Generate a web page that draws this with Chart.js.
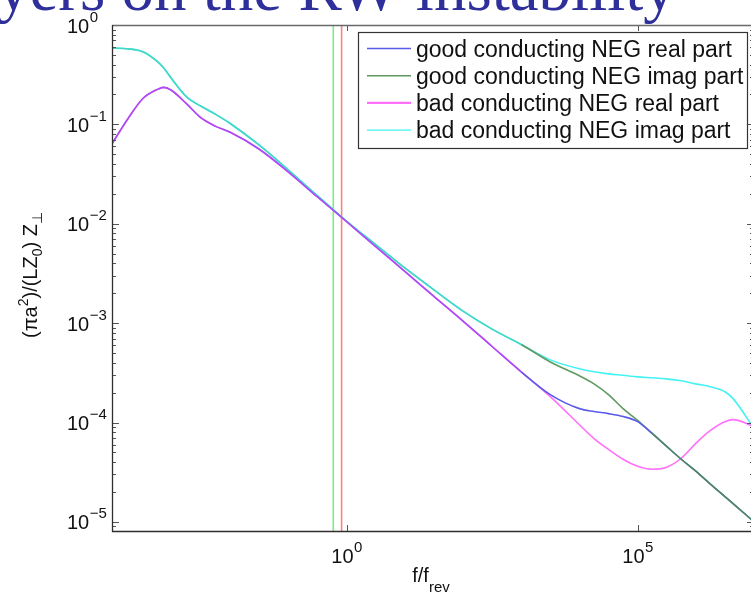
<!DOCTYPE html>
<html>
<head>
<meta charset="utf-8">
<script src="https://cdn.jsdelivr.net/npm/chart.js@4/dist/chart.umd.min.js"></script>
<style>
  html, body { margin: 0; padding: 0; background: #fff; overflow: hidden; }
  #wrap { position: relative; width: 751px; height: 597px; overflow: hidden; }
  #chart { position: absolute; left: 0; top: 0; }
</style>
</head>
<body>
<div id="wrap"><canvas id="chart" width="760" height="597"></canvas></div>
<script>
// f/f_rev sample points
const freq = [9.3e-5, 1.78e-4, 3.16e-4, 5.62e-4, 7.08e-4, 1e-3, 1.78e-3, 3.16e-3, 5.62e-3, 1e-2,
  3.16e-2, 0.1, 0.316, 1, 3.16, 10, 31.6, 100, 316, 1e3,
  3.16e3, 1e4, 1.78e4, 3.16e4, 5.62e4, 1e5, 1.78e5, 3.16e5, 5.62e5, 1e6,
  1.78e6, 3.16e6, 4.37e6, 1e7];

const goodReal = [0.0638, 0.116, 0.182, 0.225, 0.2355, 0.218, 0.161, 0.116, 0.0955, 0.0832,
  0.0562, 0.0331, 0.0186, 0.0105, 0.00589, 0.00331, 0.00186, 0.00105, 0.000582, 0.000324,
  0.000191, 0.000138, 0.000129, 0.000123, 0.000115, 0.000102, 7.76e-5, 5.75e-5, 4.27e-5, 3.24e-5,
  2.4e-5, 1.8e-5, 1.53e-5, 1.0e-5];

const goodImag = [0.585, 0.575, 0.537, 0.427, 0.373, 0.285, 0.189, 0.152, 0.126, 0.102,
  0.0617, 0.0347, 0.0191, 0.0106, 0.00617, 0.00359, 0.00216, 0.00132, 0.00087, 0.00061,
  0.000407, 0.000295, 0.000245, 0.000191, 0.000138, 0.000105, 7.76e-5, 5.75e-5, 4.27e-5, 3.24e-5,
  2.4e-5, 1.8e-5, 1.53e-5, 1.0e-5];

const badReal = [0.0638, 0.116, 0.182, 0.225, 0.2355, 0.218, 0.161, 0.116, 0.0955, 0.0832,
  0.0562, 0.0331, 0.0186, 0.0105, 0.00589, 0.00331, 0.00186, 0.00105, 0.000582, 0.000324,
  0.000182, 9.5e-5, 6.9e-5, 5.37e-5, 4.27e-5, 3.63e-5, 3.39e-5, 3.55e-5, 4.37e-5, 6.17e-5,
  8.32e-5, 1.02e-4, 1.07e-4, 9.1e-5];

const badImag = [0.585, 0.575, 0.537, 0.427, 0.373, 0.285, 0.189, 0.152, 0.126, 0.102,
  0.0617, 0.0347, 0.0191, 0.0106, 0.00617, 0.00359, 0.00216, 0.00132, 0.00087, 0.00061,
  0.000427, 0.000347, 0.000324, 0.000309, 0.000299, 0.000288, 0.000282, 0.000275, 0.000263, 0.000245,
  0.000229, 0.000204, 0.000174, 8.7e-5];

const seriesLabels = [
  "good conducting NEG real part",
  "good conducting NEG imag part",
  "bad conducting NEG real part",
  "bad conducting NEG imag part"
];

// vertical marker lines (f/f_rev)
const markerFreqs = [0.59, 0.82];

const xTickExps = [0, 5];
const yTickExps = [0, -1, -2, -3, -4, -5];

const X_MIN = 9.3e-5, X_MAX = 1e7;
const Y_MIN = 8.1e-6, Y_MAX = 1;

const FONT = "'Liberation Sans', Arial, sans-serif";

function pts(ys) {
  return freq.map((f, i) => ({ x: f, y: ys[i] }));
}

// colours where two curves lie on top of each other
const PURPLE = "#a94cf4";
const TEAL = "#45d6c6";
const SLATE = "#4f807c";

function curve(label, ys, color, overlap) {
  return {
    label: label,
    data: pts(ys),
    borderColor: color,
    borderWidth: 1.6,
    pointRadius: 0,
    fill: false,
    cubicInterpolationMode: "monotone",
    segment: overlap ? { borderColor: overlap } : undefined
  };
}

function vline(f, color) {
  return {
    data: [{ x: f, y: Y_MAX }, { x: f, y: Y_MIN }],
    borderColor: color,
    borderWidth: 1.6,
    pointRadius: 0,
    fill: false,
    legend: false
  };
}

function superLabel(ctx, exp, x, y, mode) {
  const sup = exp < 0 ? "\u2212" + (-exp) : String(exp);
  ctx.font = "20px " + FONT;
  const wb = ctx.measureText("10").width;
  ctx.font = "15px " + FONT;
  const ws = ctx.measureText(sup).width;
  let x0 = x;
  if (mode === "center") x0 = x - (wb + ws) / 2;
  ctx.textAlign = "left";
  ctx.textBaseline = "alphabetic";
  ctx.font = "20px " + FONT;
  ctx.fillText("10", x0, y);
  ctx.font = "15px " + FONT;
  ctx.fillText(sup, x0 + wb + 0.5, y - 11);
}

function drawRuns(ctx, runs, x, y) {
  let cx = x;
  runs.forEach(r => {
    ctx.font = r[1] + "px " + FONT;
    ctx.fillText(r[0], cx, y + r[2]);
    cx += ctx.measureText(r[0]).width;
  });
}

function runsWidth(ctx, runs) {
  let w = 0;
  runs.forEach(r => {
    ctx.font = r[1] + "px " + FONT;
    w += ctx.measureText(r[0]).width;
  });
  return w;
}

const axesPlugin = {
  id: "matlabAxes",
  afterDatasetsDraw(chart) {
    const ctx = chart.ctx;
    const a = chart.chartArea;
    const xs = chart.scales.x;
    const ys = chart.scales.y;
    ctx.save();

    // ticks (inward)
    ctx.strokeStyle = "#555";
    ctx.lineWidth = 1;
    ctx.beginPath();
    for (let k = -6; k <= 0; k++) {
      for (let m = 1; m <= 9; m++) {
        const v = m * Math.pow(10, k);
        if (v < Y_MIN || v > Y_MAX) continue;
        const py = Math.round(ys.getPixelForValue(v)) + 0.5;
        const len = m === 1 ? 7 : 4;
        ctx.moveTo(a.left, py); ctx.lineTo(a.left + len, py);
        ctx.moveTo(a.right, py); ctx.lineTo(a.right - len, py);
      }
    }
    xTickExps.forEach(e => {
      const px = Math.round(xs.getPixelForValue(Math.pow(10, e))) + 0.5;
      ctx.moveTo(px, a.bottom); ctx.lineTo(px, a.bottom - 6);
      ctx.moveTo(px, a.top); ctx.lineTo(px, a.top + 6);
    });
    ctx.stroke();

    // box
    ctx.lineWidth = 1.3;
    ctx.strokeStyle = "#6a6a6a";
    ctx.beginPath();
    ctx.moveTo(a.left, a.top + 0.5); ctx.lineTo(a.right, a.top + 0.5);
    ctx.moveTo(a.right - 0.5, a.top); ctx.lineTo(a.right - 0.5, a.bottom);
    ctx.stroke();
    ctx.strokeStyle = "#2e2e2e";
    ctx.beginPath();
    ctx.moveTo(a.left + 0.5, a.top); ctx.lineTo(a.left + 0.5, a.bottom + 0.5);
    ctx.lineTo(a.right, a.bottom + 0.5);
    ctx.stroke();

    // tick labels
    ctx.fillStyle = "#111";
    yTickExps.forEach(e => {
      const py = ys.getPixelForValue(Math.pow(10, e));
      superLabel(ctx, e, 67, py + 7.5, "left");
    });
    xTickExps.forEach(e => {
      const px = xs.getPixelForValue(Math.pow(10, e));
      superLabel(ctx, e, px, 563, "center");
    });

    // x axis title
    const xRuns = [["f/f", 20, 0], ["rev", 15, 10]];
    const xw = runsWidth(ctx, xRuns);
    drawRuns(ctx, xRuns, (a.left + a.right) / 2 - xw / 2 - 2, 582);

    // y axis title
    const yRuns = [["(\u03c0a", 20, 0], ["2", 14, -9], [")/(LZ", 20, 0], ["0", 14, 5],
      [") Z", 20, 0], ["\u22a5", 14, 5]];
    const yw = runsWidth(ctx, yRuns);
    ctx.save();
    ctx.translate(37, (a.top + a.bottom) / 2 - 3);
    ctx.rotate(-Math.PI / 2);
    drawRuns(ctx, yRuns, -yw / 2, 0);
    ctx.restore();

    // legend
    const lx = 358.5, ly = 32.5, lw = 389, lh = 116;
    ctx.fillStyle = "#fff";
    ctx.fillRect(lx, ly, lw, lh);
    ctx.strokeStyle = "#333";
    ctx.lineWidth = 1.2;
    ctx.strokeRect(lx, ly, lw, lh);
    chart.data.datasets.forEach((ds, i) => {
      if (ds.legend === false) return;
      const ry = 48.5 + i * 27.2;
      ctx.strokeStyle = ds.borderColor;
      ctx.lineWidth = i === 2 ? 2.4 : 1.4;
      ctx.beginPath();
      ctx.moveTo(367, ry); ctx.lineTo(411, ry);
      ctx.stroke();
      ctx.fillStyle = "#111";
      ctx.font = "23px " + FONT;
      ctx.textAlign = "left";
      ctx.fillText(ds.label, 416, ry + 8);
    });

    // slide title, cut off at the top
    ctx.fillStyle = "#2f2f9c";
    ctx.font = "65px 'Liberation Serif', 'Times New Roman', serif";
    ctx.fillText("yers on the RW instability", -3, 10);

    ctx.restore();
  }
};

const datasets = [
  curve(seriesLabels[0], goodReal, "#5a5aeb", ctx => {
    if (ctx.p1.parsed.x <= 1000) return PURPLE;
    if (ctx.p0.parsed.x >= 1.7e5) return SLATE;
    return undefined;
  }),
  curve(seriesLabels[1], goodImag, "#5f9a62", ctx => ctx.p1.parsed.x <= 1000 ? TEAL : undefined),
  curve(seriesLabels[2], badReal, "#ff70fa", null),
  curve(seriesLabels[3], badImag, "#45f2f2", null),
  vline(markerFreqs[0], "#7cee7c"),
  vline(markerFreqs[1], "#ff8080")
];

new Chart(document.getElementById("chart"), {
  type: "line",
  data: { datasets: datasets },
  options: {
    responsive: false,
    devicePixelRatio: 1,
    animation: false,
    layout: { padding: { left: 112, top: 25, right: 6, bottom: 66 } },
    scales: {
      x: { type: "logarithmic", min: X_MIN, max: X_MAX, display: false },
      y: { type: "logarithmic", min: Y_MIN, max: Y_MAX, display: false }
    },
    plugins: {
      legend: { display: false },
      tooltip: { enabled: false }
    }
  },
  plugins: [axesPlugin]
});
</script>
</body>
</html>
